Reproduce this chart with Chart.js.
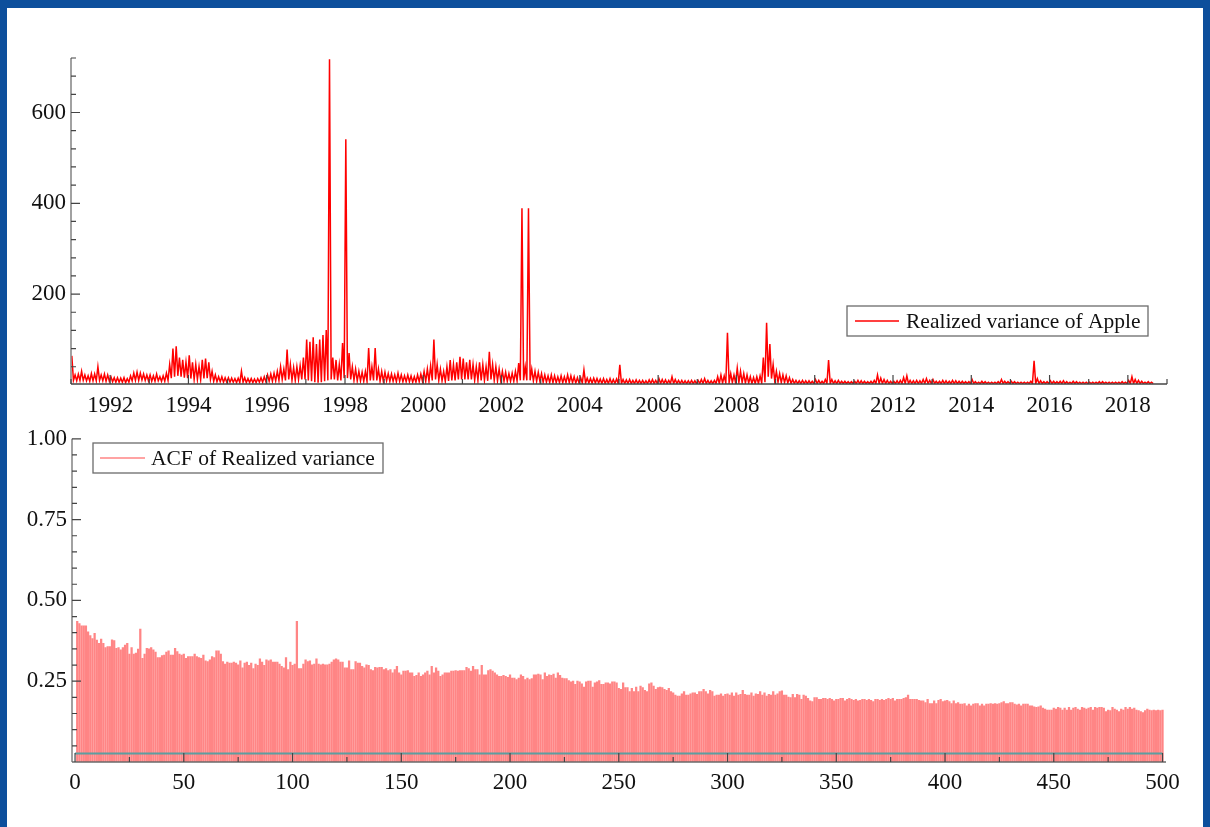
<!DOCTYPE html>
<html>
<head>
<meta charset="utf-8">
<title>Apple realized variance and its ACF</title>
<script src="https://cdn.jsdelivr.net/npm/chart.js@4.4.1/dist/chart.umd.min.js"></script>
<style>
  html, body { margin: 0; padding: 0; width: 1210px; height: 827px; overflow: hidden; background: #0d4f9c; }
  #sheet { position: absolute; left: 7px; top: 8px; width: 1196px; height: 819px; background: #ffffff; }
  canvas { position: absolute; left: 0; }
  #rv { top: 0; }
  #acf { top: 420px; }
</style>
</head>
<body>
<div id="sheet"></div>
<canvas id="rv" width="1210" height="420"></canvas>
<canvas id="acf" width="1210" height="407"></canvas>
<script>
// ---- Realized variance of Apple: monthly high / low of the daily series, Jan 1991 .. Aug 2018 ----
const rvStartYear = 1991;
const rvHigh = [
  64, 22, 24, 30, 22, 20, 25, 24, 40, 22, 24, 22,      // 1991
  18, 16, 16, 15, 16, 14, 20, 26, 28, 26, 24, 22,      // 1992
  22, 20, 24, 18, 20, 26, 45, 80, 85, 60, 55, 50,      // 1993
  65, 50, 45, 40, 55, 58, 50, 30, 22, 18, 18, 16,      // 1994
  16, 15, 14, 15, 30, 16, 14, 14, 13, 14, 16, 18,      // 1995
  22, 24, 26, 30, 40, 35, 78, 45, 38, 40, 42, 60,      // 1996
  100, 95, 105, 90, 100, 110, 121, 717, 60, 55, 45, 92, // 1997
  541, 70, 40, 35, 30, 28, 30, 81, 40, 81, 35, 30,     // 1998
  28, 25, 24, 22, 26, 22, 20, 22, 20, 18, 22, 24,      // 1999
  30, 35, 42, 100, 45, 35, 30, 40, 55, 45, 50, 62,     // 2000
  58, 50, 55, 45, 40, 50, 45, 40, 73, 45, 40, 35,      // 2001
  30, 28, 25, 26, 30, 48, 389, 40, 389, 35, 30, 28,    // 2002
  25, 22, 20, 22, 20, 18, 20, 18, 22, 20, 18, 16,      // 2003
  16, 33, 15, 14, 15, 14, 13, 14, 12, 14, 12, 13,      // 2004
  44, 12, 11, 12, 10, 11, 10, 10, 9, 11, 12, 10,       // 2005
  14, 12, 11, 10, 18, 12, 10, 10, 9, 9, 10, 9,         // 2006
  10, 12, 14, 10, 9, 10, 18, 22, 20, 115, 25, 22,      // 2007
  37, 30, 25, 22, 18, 16, 18, 20, 60, 137, 90, 45,     // 2008
  30, 25, 22, 20, 16, 12, 10, 9, 10, 9, 9, 8,          // 2009
  12, 10, 8, 12, 55, 12, 9, 10, 8, 8, 7, 7,            // 2010
  8, 10, 9, 8, 7, 8, 10, 22, 15, 12, 10, 8,            // 2011
  8, 9, 10, 16, 20, 10, 9, 10, 9, 12, 14, 10,          // 2012
  12, 8, 8, 10, 9, 8, 10, 9, 8, 8, 7, 7,               // 2013
  12, 7, 6, 8, 7, 6, 6, 6, 7, 12, 8, 7,                // 2014
  8, 7, 6, 6, 6, 6, 8, 53, 14, 9, 7, 7,                // 2015
  9, 8, 7, 8, 9, 7, 6, 8, 7, 6, 6, 6,                  // 2016
  6, 6, 6, 7, 7, 6, 6, 6, 6, 6, 7, 6,                  // 2017
  10, 18, 12, 10, 8, 6, 7, 6                           // 2018
];
const rvLow = [
  10, 9, 10, 10, 9, 8, 9, 9, 10, 9, 8, 8,              // 1991
  7, 6, 6, 6, 5, 6, 9, 10, 10, 11, 10, 9,              // 1992
  8, 8, 9, 8, 8, 10, 15, 18, 20, 18, 16, 15,           // 1993
  14, 12, 12, 12, 14, 15, 12, 8, 7, 7, 6, 6,           // 1994
  6, 6, 5, 5, 6, 5, 5, 5, 5, 6, 6, 7,                  // 1995
  8, 8, 9, 10, 12, 10, 12, 10, 10, 12, 12, 12,         // 1996
  10, 8, 6, 5, 6, 8, 10, 12, 12, 10, 10, 15,           // 1997
  15, 12, 10, 9, 9, 8, 8, 10, 10, 10, 8, 8,            // 1998
  9, 8, 8, 7, 8, 7, 7, 7, 6, 6, 7, 8,                  // 1999
  8, 8, 10, 12, 10, 9, 8, 9, 10, 10, 12, 12,           // 2000
  12, 12, 12, 10, 10, 10, 10, 9, 12, 10, 9, 9,         // 2001
  8, 8, 8, 8, 9, 10, 10, 10, 10, 9, 8, 8,              // 2002
  6, 6, 5, 5, 5, 5, 5, 5, 5, 5, 4, 4,                  // 2003
  4, 4, 4, 4, 4, 4, 3, 3, 3, 3, 3, 3,                  // 2004
  3, 3, 3, 3, 3, 3, 3, 3, 3, 3, 3, 3,                  // 2005
  3, 3, 3, 3, 3, 3, 3, 3, 3, 3, 3, 3,                  // 2006
  3, 3, 3, 3, 3, 3, 3, 4, 4, 5, 5, 4,                  // 2007
  5, 5, 4, 4, 3, 3, 3, 4, 6, 18, 14, 8,                // 2008
  6, 5, 5, 4, 3, 3, 3, 3, 3, 3, 3, 3,                  // 2009
  3, 3, 3, 3, 3, 3, 3, 3, 3, 3, 3, 3,                  // 2010
  3, 3, 3, 3, 3, 3, 3, 3, 3, 3, 3, 3,                  // 2011
  3, 3, 3, 3, 3, 3, 3, 3, 3, 3, 3, 3,                  // 2012
  3, 3, 3, 3, 3, 3, 3, 3, 3, 3, 3, 3,                  // 2013
  3, 3, 3, 3, 3, 3, 3, 3, 3, 3, 3, 3,                  // 2014
  3, 3, 3, 3, 3, 3, 3, 3, 3, 3, 3, 3,                  // 2015
  3, 3, 3, 3, 3, 3, 3, 3, 3, 3, 3, 3,                  // 2016
  3, 3, 3, 3, 3, 3, 3, 3, 3, 3, 3, 3,                  // 2017
  3, 3, 3, 3, 3, 3, 3, 3                               // 2018
];
const rvYearTicks = [1992, 1994, 1996, 1998, 2000, 2002, 2004, 2006, 2008, 2010, 2012, 2014, 2016, 2018];
const rvValueTicks = [200, 400, 600];

// ---- Autocorrelation of realized variance, lags 1..500 ----
const acfValues = [
  0.435,0.428,0.421,0.421,0.421,0.403,0.391,0.382,0.398,0.377,
  0.367,0.380,0.367,0.354,0.357,0.357,0.378,0.376,0.352,0.354,
  0.347,0.354,0.362,0.367,0.334,0.354,0.334,0.337,0.349,0.411,
  0.321,0.334,0.352,0.350,0.354,0.347,0.340,0.323,0.323,0.329,
  0.331,0.340,0.344,0.331,0.331,0.352,0.342,0.334,0.331,0.334,
  0.321,0.326,0.326,0.326,0.334,0.326,0.323,0.321,0.331,0.313,
  0.311,0.316,0.326,0.323,0.344,0.344,0.334,0.311,0.303,0.309,
  0.306,0.306,0.309,0.306,0.301,0.313,0.291,0.306,0.309,0.299,
  0.306,0.289,0.303,0.299,0.319,0.309,0.299,0.316,0.313,0.316,
  0.309,0.309,0.309,0.303,0.296,0.291,0.323,0.286,0.309,0.299,
  0.303,0.435,0.289,0.289,0.303,0.316,0.311,0.313,0.301,0.303,
  0.319,0.303,0.301,0.303,0.301,0.301,0.303,0.309,0.316,0.319,
  0.316,0.309,0.309,0.291,0.291,0.313,0.286,0.286,0.311,0.306,
  0.306,0.296,0.291,0.301,0.299,0.286,0.283,0.293,0.291,0.293,
  0.293,0.286,0.289,0.283,0.286,0.276,0.286,0.296,0.276,0.270,
  0.281,0.281,0.283,0.276,0.276,0.265,0.268,0.276,0.265,0.270,
  0.276,0.281,0.270,0.296,0.276,0.291,0.281,0.265,0.270,0.276,
  0.276,0.276,0.281,0.281,0.283,0.281,0.283,0.283,0.283,0.293,
  0.289,0.281,0.296,0.286,0.286,0.270,0.299,0.270,0.270,0.283,
  0.286,0.281,0.276,0.270,0.265,0.265,0.268,0.265,0.262,0.270,
  0.260,0.260,0.255,0.260,0.270,0.265,0.255,0.260,0.255,0.258,
  0.270,0.270,0.272,0.270,0.255,0.276,0.265,0.270,0.268,0.272,
  0.260,0.276,0.268,0.260,0.258,0.258,0.252,0.248,0.250,0.240,
  0.250,0.248,0.242,0.232,0.248,0.250,0.250,0.232,0.245,0.248,
  0.252,0.240,0.240,0.245,0.245,0.242,0.248,0.248,0.245,0.228,
  0.225,0.245,0.230,0.230,0.218,0.228,0.218,0.232,0.218,0.235,
  0.230,0.222,0.218,0.242,0.245,0.235,0.225,0.230,0.232,0.230,
  0.225,0.222,0.228,0.218,0.214,0.207,0.204,0.204,0.211,0.218,
  0.207,0.207,0.211,0.214,0.214,0.209,0.218,0.218,0.225,0.218,
  0.211,0.222,0.218,0.204,0.207,0.207,0.211,0.204,0.209,0.211,
  0.207,0.214,0.204,0.214,0.207,0.209,0.222,0.209,0.207,0.207,
  0.214,0.204,0.211,0.209,0.218,0.207,0.214,0.204,0.209,0.207,
  0.218,0.207,0.211,0.218,0.220,0.207,0.207,0.201,0.199,0.209,
  0.199,0.209,0.207,0.194,0.207,0.204,0.197,0.189,0.187,0.199,
  0.199,0.194,0.194,0.197,0.197,0.194,0.197,0.194,0.189,0.194,
  0.194,0.197,0.197,0.189,0.194,0.197,0.194,0.191,0.194,0.189,
  0.191,0.194,0.194,0.191,0.194,0.191,0.187,0.194,0.194,0.191,
  0.194,0.191,0.194,0.197,0.194,0.197,0.189,0.194,0.194,0.194,
  0.197,0.199,0.207,0.194,0.194,0.194,0.194,0.191,0.189,0.189,
  0.184,0.194,0.181,0.181,0.189,0.181,0.191,0.194,0.187,0.189,
  0.191,0.187,0.181,0.189,0.181,0.184,0.179,0.179,0.181,0.174,
  0.179,0.174,0.179,0.181,0.181,0.174,0.179,0.174,0.179,0.179,
  0.181,0.179,0.181,0.179,0.181,0.184,0.187,0.181,0.181,0.184,
  0.184,0.179,0.177,0.179,0.174,0.179,0.179,0.179,0.174,0.174,
  0.171,0.169,0.171,0.174,0.167,0.164,0.161,0.161,0.161,0.167,
  0.164,0.169,0.167,0.161,0.167,0.161,0.169,0.161,0.167,0.169,
  0.164,0.161,0.169,0.167,0.164,0.167,0.169,0.161,0.169,0.167,
  0.169,0.169,0.167,0.156,0.161,0.159,0.169,0.164,0.161,0.156,
  0.164,0.161,0.169,0.164,0.169,0.164,0.167,0.161,0.159,0.156,
  0.153,0.159,0.164,0.161,0.159,0.161,0.159,0.161,0.159,0.161
];
const acfBand = 0.026;          // approximate 2-standard-error bound
const acfMaxLag = 500;
const acfLagTicks = [0, 50, 100, 150, 200, 250, 300, 350, 400, 450, 500];
const acfValueTicks = [0.25, 0.5, 0.75, 1.0];

// ---- shared look ----
const SERIF = "'Liberation Serif', 'Times New Roman', serif";
const tickFont = { family: SERIF, size: 23 };
const textColor = '#111111';

// Minor/major tick marks drawn inward from the axes, plus the axis lines themselves.
const innerTicks = {
  id: 'innerTicks',
  afterDatasetsDraw(chart, args, o) {
    const { ctx, chartArea: a } = chart;
    const xs = chart.scales.x, ys = chart.scales.y;
    ctx.save();
    ctx.lineWidth = 1.6;
    ctx.strokeStyle = o.yAxisColor;
    ctx.beginPath(); ctx.moveTo(a.left, a.top); ctx.lineTo(a.left, a.bottom); ctx.stroke();
    ctx.strokeStyle = o.xAxisColor;
    ctx.beginPath(); ctx.moveTo(a.left, a.bottom); ctx.lineTo(a.right, a.bottom); ctx.stroke();
    ctx.strokeStyle = o.tickColor;
    ctx.lineWidth = 1.2;
    ctx.beginPath();
    const vt = (v, len) => { const p = xs.getPixelForValue(v); ctx.moveTo(p, a.bottom); ctx.lineTo(p, a.bottom - len); };
    const ht = (v, len) => { const p = ys.getPixelForValue(v); ctx.moveTo(a.left, p); ctx.lineTo(a.left + len, p); };
    o.xMinor.forEach(v => vt(v, o.minorLen));
    o.xMajor.forEach(v => vt(v, o.majorLen));
    o.yMinor.forEach(v => ht(v, o.minorLen));
    o.yMajor.forEach(v => ht(v, o.majorLen));
    ctx.stroke();
    ctx.restore();
  }
};

// Boxed legend placed inside the plot.
const boxLegend = {
  id: 'boxLegend',
  afterDraw(chart, args, o) {
    const ds = chart.data.datasets[o.datasetIndex];
    const ctx = chart.ctx;
    ctx.save();
    ctx.strokeStyle = '#6b6b6b';
    ctx.lineWidth = 1.3;
    ctx.strokeRect(o.x, o.y, o.w, o.h);
    const cy = o.y + o.h / 2;
    ctx.strokeStyle = o.swatchColor || ds.borderColor;
    ctx.lineWidth = 1.5;
    ctx.beginPath(); ctx.moveTo(o.x + o.lineFrom, cy); ctx.lineTo(o.x + o.lineTo, cy); ctx.stroke();
    ctx.fillStyle = textColor;
    ctx.font = '21.5px ' + SERIF;
    ctx.textBaseline = 'middle';
    ctx.fillText(ds.label, o.x + o.textAt, cy + 1);
    ctx.restore();
  }
};

// ---- top panel: the realized variance series ----
const rvPoints = [];
rvHigh.forEach((h, i) => {
  const t = rvStartYear + i / 12;
  rvPoints.push({ x: t + 1 / 48, y: h });
  rvPoints.push({ x: t + 3 / 48, y: rvLow[i] });
});
const rvMinorY = [];
for (let v = 40; v <= 720; v += 40) rvMinorY.push(v);
const rvMinorX = [];
for (let y = 1991; y <= 2019; y++) rvMinorX.push(y);

new Chart(document.getElementById('rv'), {
  type: 'line',
  data: {
    datasets: [{
      label: 'Realized variance of Apple',
      data: rvPoints,
      borderColor: '#ff0000',
      borderWidth: 1.5,
      pointRadius: 0,
      tension: 0,
      fill: false
    }]
  },
  options: {
    responsive: false,
    animation: false,
    devicePixelRatio: 1,
    layout: { padding: { left: 0, top: 58, right: 43, bottom: 0 } },
    plugins: {
      legend: { display: false },
      tooltip: { enabled: false },
      innerTicks: {
        xAxisColor: '#444', yAxisColor: '#8a8a8a', tickColor: '#444',
        majorLen: 9, minorLen: 5,
        xMajor: rvYearTicks, xMinor: rvMinorX,
        yMajor: rvValueTicks, yMinor: rvMinorY
      },
      boxLegend: { datasetIndex: 0, x: 847, y: 306, w: 301, h: 30, lineFrom: 8, lineTo: 52, textAt: 59 }
    },
    scales: {
      x: {
        type: 'linear', min: 1991, max: 2019,
        grid: { display: false, drawTicks: false },
        border: { display: false },
        afterBuildTicks: s => { s.ticks = rvYearTicks.map(v => ({ value: v })); },
        afterFit: s => { s.height = 36; },
        ticks: { autoSkip: false, maxRotation: 0, padding: 8, color: textColor, font: tickFont, callback: v => String(v) }
      },
      y: {
        type: 'linear', min: 2, max: 720,
        grid: { display: false, drawTicks: false },
        border: { display: false },
        afterBuildTicks: s => { s.ticks = rvValueTicks.map(v => ({ value: v })); },
        afterFit: s => { s.width = 71; },
        ticks: { padding: 5, color: textColor, font: tickFont, callback: v => String(v) }
      }
    }
  },
  plugins: [innerTicks, boxLegend]
});

// ---- bottom panel: autocorrelation bars ----
const acfPoints = acfValues.map((v, i) => ({ x: i + 1, y: v }));
const acfMinorY = [];
for (let k = 1; k <= 20; k++) acfMinorY.push(k * 0.05);
const acfMinorX = [];
for (let l = 25; l < acfMaxLag; l += 50) acfMinorX.push(l);

new Chart(document.getElementById('acf'), {
  type: 'bar',
  data: {
    datasets: [
      {
        type: 'line',
        label: 'band',
        data: [{ x: 0, y: acfBand }, { x: acfMaxLag, y: acfBand }],
        borderColor: '#5b9ea0',
        borderWidth: 2,
        pointRadius: 0,
        order: 0
      },
      {
        label: 'ACF of Realized variance',
        data: acfPoints,
        backgroundColor: '#ff8585',
        borderWidth: 0,
        barThickness: 1.6,
        order: 1
      }
    ]
  },
  options: {
    responsive: false,
    animation: false,
    devicePixelRatio: 1,
    layout: { padding: { left: 0, top: 16, right: 44, bottom: 0 } },
    plugins: {
      legend: { display: false },
      tooltip: { enabled: false },
      innerTicks: {
        xAxisColor: '#6a6a6a', yAxisColor: '#8a8a8a', tickColor: '#444',
        majorLen: 9, minorLen: 5,
        xMajor: acfLagTicks, xMinor: acfMinorX,
        yMajor: acfValueTicks, yMinor: acfMinorY
      },
      boxLegend: { datasetIndex: 1, x: 93, y: 23, w: 290, h: 30, lineFrom: 7, lineTo: 52, textAt: 58, swatchColor: '#ff8585' }
    },
    scales: {
      x: {
        type: 'linear', min: -1.4, max: 501.6, offset: false,
        grid: { display: false, drawTicks: false, offset: false },
        border: { display: false },
        afterBuildTicks: s => { s.ticks = acfLagTicks.map(v => ({ value: v })); },
        afterFit: s => { s.height = 65; },
        ticks: { autoSkip: false, maxRotation: 0, padding: 7, color: textColor, font: tickFont, callback: v => String(v) }
      },
      y: {
        type: 'linear', min: 0, max: 1,
        grid: { display: false, drawTicks: false },
        border: { display: false },
        afterBuildTicks: s => { s.ticks = acfValueTicks.map(v => ({ value: v })); },
        afterFit: s => { s.width = 72; },
        ticks: { padding: 5, color: textColor, font: tickFont, callback: v => Number(v).toFixed(2) }
      }
    }
  },
  plugins: [innerTicks, boxLegend]
});
</script>
</body>
</html>
